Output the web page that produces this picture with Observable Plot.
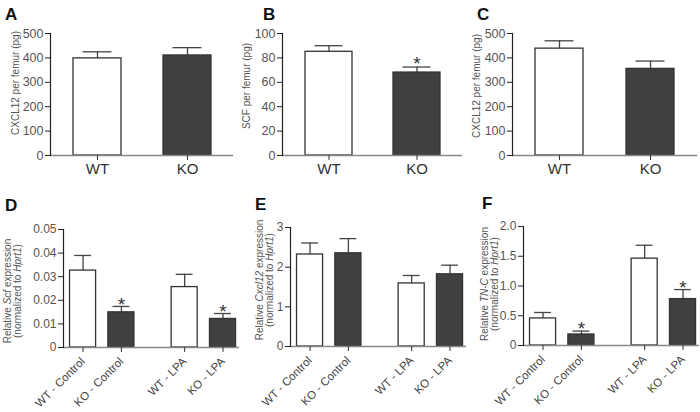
<!DOCTYPE html>
<html><head><meta charset="utf-8">
<script src="https://cdn.jsdelivr.net/npm/d3@7"></script>
<script src="https://cdn.jsdelivr.net/npm/@observablehq/plot@0.6"></script>
<style>
body{margin:0;background:#fff;}
#wrap{position:relative;width:700px;height:412px;overflow:hidden;font-family:"Liberation Sans",Arial,sans-serif;}
.panel{position:absolute;}
.panel svg{overflow:visible;}
#letters{position:absolute;left:0;top:0;pointer-events:none;}
</style></head><body><div id="wrap"></div>
<script>
// ---------- data ----------
const topCats = ["WT", "KO"];
const cxcl12A = [398, 410];
const cxcl12AErr = [27, 32];
const scfB = [85, 68];
const scfBErr = [5, 4.5];
const scfBStars = [false, true];
const cxcl12C = [438, 355];
const cxcl12CErr = [32, 32];

const botCats = ["WT - Control", "KO - Control", "WT - LPA", "KO - LPA"];
const scfD = [0.0326, 0.0149, 0.0256, 0.0121];
const scfDErr = [0.0064, 0.0025, 0.0054, 0.0023];
const cxcl12E = [2.32, 2.35, 1.59, 1.82];
const cxcl12EErr = [0.29, 0.37, 0.20, 0.23];
const tncF = [0.455, 0.185, 1.46, 0.78];
const tncFErr = [0.10, 0.057, 0.225, 0.16];
const koStars = [false, true, false, true];

const ticksA = [0, 100, 200, 300, 400, 500];
const ticksB = [0, 20, 40, 60, 80, 100];
const ticksC = [0, 100, 200, 300, 400, 500];
const ticksD = [0, 0.01, 0.02, 0.03, 0.04, 0.05];
const labelsD = ["0", "0.01", "0.02", "0.03", "0.04", "0.05"];
const ticksE = [0, 1, 2, 3];
const ticksF = [0, 0.5, 1, 1.5, 2];
const labelsF = ["0", "0.5", "1.0", "1.5", "2.0"];

const titleA = [["CXCL12 per femur (pg)"]];
const titleB = [["SCF per femur (pg)"]];
const titleC = [["CXCL12 per femur (pg)"]];
const titleD = [["Relative ", "Scf", " expression"], ["(normalized to ", "Hprt1", ")"]];
const titleE = [["Relative ", "Cxcl12", " expression"], ["(normalized to ", "Hprt1", ")"]];
const titleF = [["Relative ", "TN-C", " expression"], ["(normalized to ", "Hprt1", ")"]];

const panelLetters = ["A", "B", "C", "D", "E", "F"];

// ---------- style ----------
const FONT = '"Liberation Sans", Arial, sans-serif';
const WT_FILL = "#ffffff", KO_FILL = "#404040";
const BAR_STROKE = "#333", ERR_STROKE = "#444";
const wrap = document.getElementById("wrap");

function addTitle(svg, lines, cx, cy, fs) {
  const g = d3.select(svg);
  lines.forEach((segs, li) => {
    const t = g.append("text")
      .attr("transform", `translate(${cx + li * 10 + 3.5},${cy}) rotate(-90)`)
      .attr("text-anchor", "middle")
      .attr("font-size", fs)
      .attr("font-family", FONT)
      .attr("fill", "#555");
    segs.forEach((s, si) => {
      t.append("tspan").text(s).attr("font-style", si % 2 === 1 ? "italic" : "normal");
    });
  });
}

function place(svg, left, top) {
  const div = document.createElement("div");
  div.className = "panel";
  div.style.left = left + "px";
  div.style.top = top + "px";
  div.appendChild(svg);
  wrap.appendChild(div);
}

function topPanel(o) {
  const data = topCats.map((c, i) => ({c, m: o.means[i], e: o.means[i] + o.errs[i], star: o.stars ? o.stars[i] : false}));
  const yMax = o.ticks[o.ticks.length - 1];
  const svg = Plot.plot({
    width: o.width, height: 190,
    marginLeft: o.ml, marginRight: o.mr, marginTop: 33, marginBottom: 35,
    style: {fontFamily: FONT, background: "transparent", color: "#555"},
    x: {domain: topCats, paddingInner: 0.47, paddingOuter: 0.25},
    y: {domain: [0, yMax]},
    color: {domain: ["WT", "KO"], range: [WT_FILL, KO_FILL]},
    marks: [
      Plot.ruleX(data, {x: "c", y1: "m", y2: "e", stroke: ERR_STROKE, strokeWidth: 1.3}),
      Plot.tickY(data, {x: "c", y: "e", stroke: ERR_STROKE, strokeWidth: 1.3, insetLeft: 9.5, insetRight: 9.5}),
      Plot.barY(data, {x: "c", y: "m", fill: "c", stroke: BAR_STROKE, strokeWidth: 1.3}),
      Plot.text(data.filter(d => d.star), {x: "c", y: "e", text: () => "*", dy: -3, fontSize: 19, fill: "#333"}),
      Plot.ruleY([0], {stroke: "#888", strokeWidth: 1.5}),
      Plot.frame({anchor: "left", stroke: "#222", strokeWidth: 1.2}),
      Plot.axisY({ticks: o.ticks, tickSize: 5, tickPadding: 2, fontSize: 12.5, label: null, stroke: "#222", fill: "#555"}),
      Plot.axisX({tickSize: 5, tickPadding: 3, fontSize: 15, label: null, stroke: "#333", fill: "#333"})
    ]
  });
  addTitle(svg, o.title, o.tx, o.ty, 10);
  place(svg, o.left, 0);
}

const GAP = 0.65, HALF_BAR = 0.34, HALF_CAP = 0.22;
const botPos = botCats.map((c, i) => i + (i >= 2 ? GAP : 0));

function bottomPanel(o) {
  const data = botCats.map((c, i) => ({c, g: c.split(" - ")[0], p: botPos[i], m: o.means[i], e: o.means[i] + o.errs[i], star: o.stars ? o.stars[i] : false}));
  const yMax = o.ticks[o.ticks.length - 1];
  const svg = Plot.plot({
    width: o.width, height: 222,
    marginLeft: o.ml, marginRight: o.mr, marginTop: o.mt, marginBottom: o.mb,
    style: {fontFamily: FONT, background: "transparent", color: "#555"},
    x: {domain: [-0.51, 4.08]},
    y: {domain: [0, yMax]},
    color: {domain: ["WT", "KO"], range: [WT_FILL, KO_FILL]},
    marks: [
      Plot.ruleX(data, {x: "p", y1: "m", y2: "e", stroke: ERR_STROKE, strokeWidth: 1.3}),
      Plot.ruleY(data, {y: "e", x1: d => d.p - HALF_CAP, x2: d => d.p + HALF_CAP, stroke: ERR_STROKE, strokeWidth: 1.3}),
      Plot.rect(data, {x1: d => d.p - HALF_BAR, x2: d => d.p + HALF_BAR, y1: d => 0, y2: "m", fill: "g", stroke: BAR_STROKE, strokeWidth: 1.3}),
      Plot.text(data.filter(d => d.star), {x: "p", y: "e", text: () => "*", dy: -2, fontSize: 19, fill: "#333"}),
      Plot.ruleY([0], {stroke: "#888", strokeWidth: 1.5}),
      Plot.frame({anchor: "left", stroke: "#222", strokeWidth: 1.2}),
      Plot.axisY({ticks: o.ticks, tickFormat: d => o.labels ? o.labels[o.ticks.indexOf(d)] : String(d), tickSize: 5, tickPadding: 2, fontSize: 12, label: null, stroke: "#222", fill: "#555"}),
      Plot.axisX({ticks: botPos, tickFormat: d => botCats[botPos.indexOf(d)], tickRotate: -45, tickSize: 5, tickPadding: 7, fontSize: 11.5, label: null, stroke: "#333", fill: "#444"})
    ]
  });
  addTitle(svg, o.title, o.tx, o.ty, 10);
  place(svg, o.left, 190);
}

topPanel({means: cxcl12A, errs: cxcl12AErr, ticks: ticksA, title: titleA, left: 0, width: 240, ml: 50, mr: 7, tx: 15.5, ty: 83});
topPanel({means: scfB, errs: scfBErr, stars: scfBStars, ticks: ticksB, title: titleB, left: 232, width: 232, ml: 50, mr: 2, tx: 14, ty: 86});
topPanel({means: cxcl12C, errs: cxcl12CErr, ticks: ticksC, title: titleC, left: 462, width: 238, ml: 50, mr: 3, tx: 14, ty: 86});

bottomPanel({means: scfD, errs: scfDErr, stars: koStars, ticks: ticksD, labels: labelsD, title: titleD, left: 0, width: 242, ml: 63, mr: 3, mt: 39, mb: 65, tx: 7, ty: 101});
bottomPanel({means: cxcl12E, errs: cxcl12EErr, ticks: ticksE, title: titleE, left: 230, width: 240, ml: 60, mr: 4, mt: 37, mb: 66, tx: 29, ty: 90});
bottomPanel({means: tncF, errs: tncFErr, stars: koStars, ticks: ticksF, labels: labelsF, title: titleF, left: 460, width: 240, ml: 63, mr: 1, mt: 36, mb: 67, tx: 24, ty: 94});

// panel letters
const letterPos = [[5, 20], [263, 20], [477, 20], [5, 211], [255, 210], [482, 209]];
const ov = d3.select(wrap).append("svg").attr("id", "letters").attr("width", 700).attr("height", 412);
panelLetters.forEach((L, i) => {
  ov.append("text").attr("x", letterPos[i][0]).attr("y", letterPos[i][1])
    .attr("font-family", FONT).attr("font-weight", "bold").attr("font-size", 17).attr("fill", "#111").text(L);
});
</script></body></html>
